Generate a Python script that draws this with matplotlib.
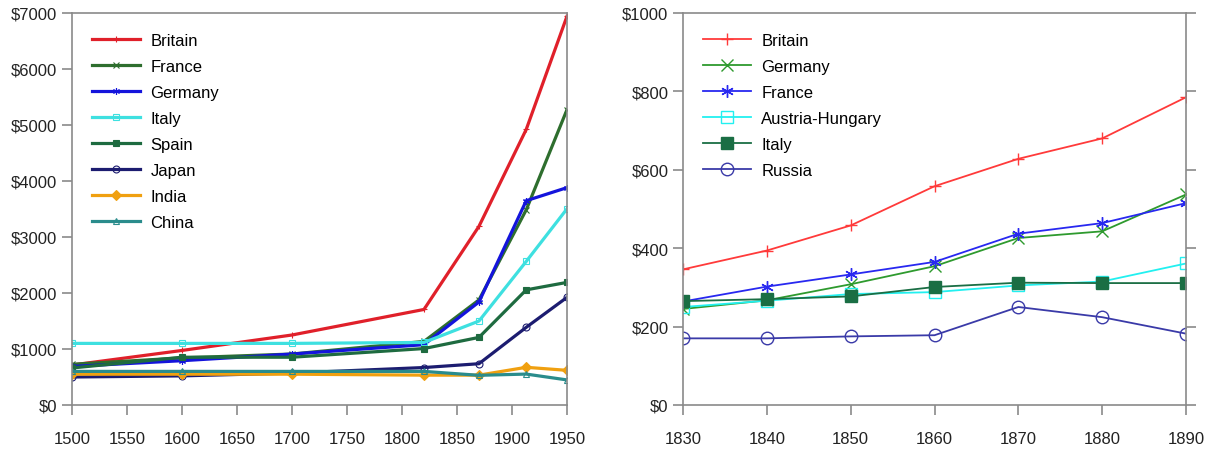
import matplotlib.pyplot as plt
from matplotlib.ticker import FuncFormatter

plt.rcParams['font.family'] = ['Liberation Sans', 'DejaVu Sans']

# GDP per capita, long run (left panel)
years_long = [1500, 1600, 1700, 1820, 1870, 1913, 1950]
britain_long = [714, 974, 1250, 1706, 3190, 4921, 6939]
france_long = [727, 841, 910, 1135, 1876, 3485, 5271]
germany_long = [688, 791, 910, 1077, 1839, 3648, 3881]
italy_long = [1100, 1100, 1100, 1117, 1499, 2564, 3502]
spain_long = [661, 853, 853, 1008, 1207, 2056, 2189]
japan_long = [500, 520, 570, 669, 737, 1387, 1921]
india_long = [550, 550, 550, 533, 533, 673, 619]
china_long = [600, 600, 600, 600, 530, 552, 448]

# GDP per capita, 1830-1890 (right panel)
years_short = [1830, 1840, 1850, 1860, 1870, 1880, 1890]
britain_short = [346, 394, 458, 558, 628, 680, 785]
germany_short = [245, 267, 308, 354, 426, 443, 537]
france_short = [264, 302, 333, 365, 437, 464, 515]
austria_short = [250, 266, 283, 288, 305, 315, 361]
italy_short = [265, 270, 277, 301, 312, 311, 311]
russia_short = [170, 170, 175, 178, 250, 224, 182]

spine_col = '#8a8a8a'
dollar = FuncFormatter(lambda v, p: '${:d}'.format(int(v)))
asterisk = (6, 2, 0)

fig = plt.figure(figsize=(12.07, 4.6), dpi=100)
ax1 = fig.add_axes([0.0597, 0.1174, 0.410, 0.8522])
ax2 = fig.add_axes([0.5659, 0.1174, 0.4167, 0.8522])

left_series = [
    ('Britain', britain_long, '#e0202a', '+', 'none'),
    ('France', france_long, '#2e6e2e', 'x', 'none'),
    ('Germany', germany_long, '#1414dc', asterisk, 'none'),
    ('Italy', italy_long, '#3ee0e0', 's', 'none'),
    ('Spain', spain_long, '#1e6b40', 's', None),
    ('Japan', japan_long, '#1c1c70', 'o', 'none'),
    ('India', india_long, '#f0a010', 'D', None),
    ('China', china_long, '#2a8c8c', '^', 'none'),
]
for name, vals, col, mk, fc in left_series:
    ax1.plot(years_long, vals, color=col, lw=2.3, marker=mk, ms=5,
             mfc=fc if fc else col, mec=col, mew=0.8, label=name)

right_series = [
    ('Britain', britain_short, '#ff3a3a', '+', 'none'),
    ('Germany', germany_short, '#2e9a2e', 'x', 'none'),
    ('France', france_short, '#2828f0', asterisk, 'none'),
    ('Austria-Hungary', austria_short, '#22f0f0', 's', 'none'),
    ('Italy', italy_short, '#1a6e44', 's', None),
    ('Russia', russia_short, '#3a3aa8', 'o', 'none'),
]
for name, vals, col, mk, fc in right_series:
    ax2.plot(years_short, vals, color=col, lw=1.3, marker=mk, ms=9,
             mfc=fc if fc else col, mec=col, mew=1, label=name)

ax1.set_xlim(1500, 1950)
ax1.set_ylim(0, 7000)
ax1.set_xticks(range(1500, 1951, 50))
ax1.set_yticks(range(0, 7001, 1000))
ax2.set_xlim(1830, 1890)
ax2.set_ylim(0, 1000)
ax2.set_xticks(years_short)
ax2.set_yticks(range(0, 1001, 200))

for ax in (ax1, ax2):
    ax.yaxis.set_major_formatter(dollar)
    for s in ax.spines.values():
        s.set_color(spine_col)
        s.set_linewidth(1.2)
    ax.tick_params(direction='out', length=7, width=1.2, color=spine_col,
                   labelsize=12, labelcolor='#222222')
    ax.tick_params(axis='x', pad=12)
    ax.legend(loc='upper left', frameon=False, fontsize=12, handlelength=2.9,
              labelspacing=0.66, borderaxespad=0.7, handletextpad=0.6,
              borderpad=0.5)
ax2.tick_params(axis='y', right=True)

fig.savefig('out.png', dpi=100)
